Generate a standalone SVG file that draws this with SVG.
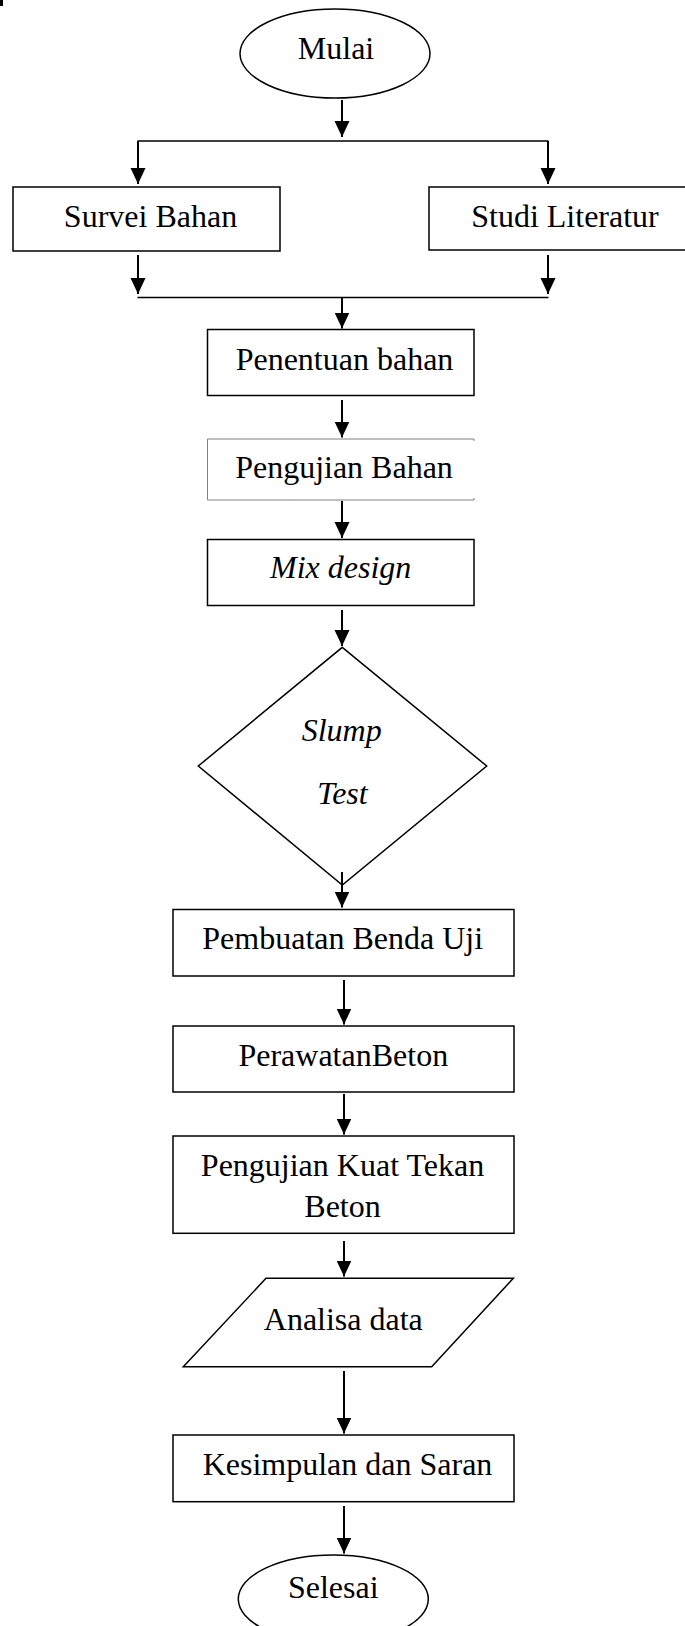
<svg xmlns="http://www.w3.org/2000/svg" width="685" height="1626" viewBox="0 0 685 1626">
<style>
.s{fill:#fff;stroke:#000;stroke-width:1.5}
.t{font-family:"Liberation Serif","Times New Roman",serif;font-size:32px;fill:#000;text-anchor:middle}
.i{font-style:italic}
.c line{stroke:#000;stroke-width:2}
.c line.h{stroke-width:1.5}
</style>
<defs>
<marker id="ah" markerUnits="userSpaceOnUse" markerWidth="16" markerHeight="16" refX="16" refY="7.5" orient="auto">
<path d="M0,0 L16,7.5 L0,15 z" fill="#000"/>
</marker>
</defs>
<rect x="0" y="0" width="3" height="6" fill="#000"/>
<g id="mulai">
<ellipse class="s" cx="335" cy="53.5" rx="95" ry="44.5"/>
<text class="t" x="336" y="59">Mulai</text>
</g>
<g id="survei">
<rect class="s" x="13" y="187" width="267" height="64"/>
<text class="t" x="150.5" y="227">Survei Bahan</text>
</g>
<g id="studi">
<rect class="s" x="429" y="187" width="260" height="63"/>
<text class="t" x="565" y="227">Studi Literatur</text>
</g>
<g id="penentuan">
<rect class="s" x="207.5" y="329.5" width="266.5" height="66"/>
<text class="t" x="344.5" y="370">Penentuan bahan</text>
</g>
<g id="pengujian-bahan">
<polyline points="474,441 474,439 207.5,439 207.5,500 474,500 474,498" fill="none" stroke="#808080" stroke-width="1"/>
<text class="t" x="344" y="478">Pengujian Bahan</text>
</g>
<g id="mix">
<rect class="s" x="207.5" y="539.5" width="266.5" height="66"/>
<text class="t i" x="340.7" y="578">Mix design</text>
</g>
<g id="slump">
<polygon class="s" points="342.3,647.3 486.7,766 342.3,885 198.3,766"/>
<text class="t i" x="341.7" y="741">Slump</text>
<text class="t i" x="342.5" y="804">Test</text>
</g>
<g id="pembuatan">
<rect class="s" x="173" y="909.5" width="341" height="66.5"/>
<text class="t" x="342.7" y="949.3">Pembuatan Benda Uji</text>
</g>
<g id="perawatan">
<rect class="s" x="173" y="1026" width="341" height="66"/>
<text class="t" x="343.3" y="1065.7">PerawatanBeton</text>
</g>
<g id="kuat-tekan">
<rect class="s" x="173" y="1136" width="341" height="97.3"/>
<text class="t" x="342.5" y="1176">Pengujian Kuat Tekan</text>
<text class="t" x="342.5" y="1217.3">Beton</text>
</g>
<g id="analisa">
<polygon class="s" points="266,1278.3 513.3,1278.3 431.7,1366.7 183.3,1366.7"/>
<text class="t" x="343.3" y="1330">Analisa data</text>
</g>
<g id="kesimpulan">
<rect class="s" x="173" y="1435" width="341" height="66.7"/>
<text class="t" x="347.5" y="1475">Kesimpulan dan Saran</text>
</g>
<g id="selesai">
<ellipse class="s" cx="333.3" cy="1599" rx="95" ry="44"/>
<text class="t" x="333.3" y="1598.3">Selesai</text>
</g>
<g id="connectors" class="c">
<line x1="342" y1="100" x2="342" y2="137" marker-end="url(#ah)"/>
<line class="h" x1="137.5" y1="141" x2="548.5" y2="141"/>
<line x1="138" y1="141" x2="138" y2="184" marker-end="url(#ah)"/>
<line x1="548" y1="141" x2="548" y2="184" marker-end="url(#ah)"/>
<line x1="138" y1="255" x2="138" y2="294" marker-end="url(#ah)"/>
<line x1="548" y1="255" x2="548" y2="294" marker-end="url(#ah)"/>
<line class="h" x1="137.5" y1="297.5" x2="548.5" y2="297.5"/>
<line x1="342" y1="297" x2="342" y2="328.5" marker-end="url(#ah)"/>
<line x1="342" y1="400" x2="342" y2="437.5" marker-end="url(#ah)"/>
<line x1="342" y1="501" x2="342" y2="538" marker-end="url(#ah)"/>
<line x1="342" y1="610" x2="342" y2="646" marker-end="url(#ah)"/>
<line x1="342" y1="872" x2="342" y2="907.5" marker-end="url(#ah)"/>
<line x1="344" y1="980" x2="344" y2="1024.5" marker-end="url(#ah)"/>
<line x1="344" y1="1094" x2="344" y2="1134.5" marker-end="url(#ah)"/>
<line x1="344" y1="1241" x2="344" y2="1276.5" marker-end="url(#ah)"/>
<line x1="344" y1="1371" x2="344" y2="1433.5" marker-end="url(#ah)"/>
<line x1="344" y1="1506" x2="344" y2="1553.5" marker-end="url(#ah)"/>
</g>
</svg>
